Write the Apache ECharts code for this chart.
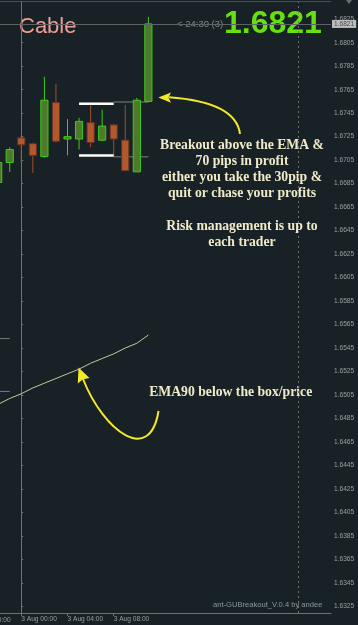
<!DOCTYPE html>
<html>
<head>
<meta charset="utf-8">
<script src="https://cdn.jsdelivr.net/npm/echarts@6/dist/echarts.min.js"></script>
<style>
html,body{margin:0;padding:0;background:#182226;}
#chart{width:358px;height:625px;}
</style>
</head>
<body>
<div id="chart"></div>
<script>
// ---- data (hours relative to 3 Aug 00:00, H1 candles) ----
const hours  = [-2, -1, 0, 1, 2, 3, 4, 5, 6, 7, 8, 9, 10, 11];
const opens  = [1.6686,1.6703,1.6724,1.6719,1.6708,1.6754,1.6723,1.6723,1.6737,1.6722,1.6735,1.6722,1.6695,1.6755];
const closes = [1.6703,1.6714,1.6718,1.6709,1.6756,1.6721,1.6725,1.6738,1.6720,1.6734,1.6723,1.6696,1.6756,1.6821];
const highs  = [1.6705,1.6716,1.6727,1.6720,1.6776,1.6770,1.6740,1.6741,1.6752,1.6748,1.6736,1.6752,1.6758,1.6827];
const lows   = [1.6683,1.6695,1.6703,1.6694,1.6707,1.6720,1.6709,1.6714,1.6716,1.6721,1.6708,1.6696,1.6695,1.6755];
const ema90  = [1.6497,1.6502,1.6506,1.6511,1.6515,1.6519,1.6523,1.6527,1.6532,1.6536,1.6540,1.6545,1.6549,1.6556];

const boxHours = [5, 8];
const boxLevels = [1.6753, 1.6709];
const extHours = [8, 11];
const extLevels = [1.67545, 1.67078];
const prevBoxHours = [-4, -1];
const prevBoxLevels = [1.6553, 1.6508];

const bidPrice = 1.6821;
const separatorHours = [0, 24];

const xTickHours  = [0, 4, 8];
const xTickLabels = ['3 Aug 00:00', '3 Aug 04:00', '3 Aug 08:00'];
const yTickValues = [1.6325,1.6345,1.6365,1.6385,1.6405,1.6425,1.6445,1.6465,1.6485,1.6505,
                     1.6525,1.6545,1.6565,1.6585,1.6605,1.6625,1.6645,1.6665,1.6685,1.6705,
                     1.6725,1.6745,1.6765,1.6785,1.6805,1.6825];

const annotationLines = ['Breakout above the EMA &', '70 pips in profit', 'either you take the 30pip &',
  'quit or chase your profits', '', 'Risk management is up to', 'each trader'];
const emaNote = 'EMA90 below the box/price';

// ---- styles ----
const axisColor = '#6e7273';
const labelColor = '#9a9fa0';
const smallFont = 'Liberation Sans';
const noteColor = '#efeac9';
const arrowColor = '#f3e92a';

const chart = echarts.init(document.getElementById('chart'), null, {renderer: 'canvas'});

function candleItem(params, api) {
  const x = api.value(0), o = api.value(1), c = api.value(2), l = api.value(3), h = api.value(4);
  const pO = api.coord([x, o]), pC = api.coord([x, c]), pL = api.coord([x, l]), pH = api.coord([x, h]);
  const w = api.size([1, 0])[0] * 0.62;
  const up = c >= o;
  const top = Math.min(pO[1], pC[1]);
  const bh = Math.max(Math.abs(pO[1] - pC[1]), 1.5);
  return {
    type: 'group',
    children: [
      {type: 'line', shape: {x1: pH[0], y1: pH[1], x2: pL[0], y2: pL[1]},
       style: {stroke: up ? '#3fcc1e' : '#a0502c', lineWidth: 1}},
      {type: 'rect', shape: {x: pO[0] - w / 2, y: top, width: w, height: bh},
       style: {fill: up ? '#4e7a2c' : '#b1592d', stroke: up ? '#3fcc1e' : '#6a3028', lineWidth: 1}}
    ]
  };
}

function seg(hrs, level) { return hrs.map(h => [h, level]); }

const segStyle = (color, width) => ({
  type: 'line', symbol: 'none', silent: true, animation: false,
  lineStyle: {color: color, width: width}
});

const textEl = (text, x, y, size, color, opts) => ({
  type: 'text', x: x, y: y, silent: true,
  style: Object.assign({text: text, fontSize: size, fontFamily: smallFont, fill: color,
    align: 'left', verticalAlign: 'middle'}, opts || {})
});

const graphics = [
  {type: 'line', shape: {x1: 0, y1: 1.5, x2: 331, y2: 1.5}, style: {stroke: '#4a5051', lineWidth: 1}, silent: true},
  {type: 'polygon', shape: {points: [[346, 0], [352, 0], [349, 4]]}, style: {fill: '#6a6e6f'}, silent: true},
  textEl('Cable', 19, 26.5, 22, '#f19c95', {fontFamily: 'Liberation Sans'}),
  textEl('1.6821', 224, 24.5, 32, '#66e00e', {fontFamily: 'Liberation Sans', fontWeight: 'bold'}),
  textEl('< 24:30 (3)', 177, 24, 9.5, '#7c8586'),
  textEl('2 Aug 20:00', -24.9, 620, 6.6, labelColor),
  textEl('ant-GUBreakout_V.0.4 by andee', 213, 604.5, 7.6, '#8a989c'),
  textEl(emaNote, 230.7, 392, 13.7, noteColor, {fontFamily: 'Liberation Serif', fontWeight: 'bold', align: 'center'}),
  // arrow 1
  {type: 'bezierCurve', shape: {x1: 240, y1: 134, cpx1: 236, cpy1: 102, x2: 169, y2: 97.3},
   style: {stroke: arrowColor, lineWidth: 2, fill: null}, silent: true},
  {type: 'polygon', shape: {points: [[158.3, 97.5], [171, 92.5], [168.5, 97.5], [171, 102.7]]},
   style: {fill: arrowColor}, silent: true},
  // arrow 2
  {type: 'bezierCurve', shape: {x1: 158.5, y1: 411, cpx1: 150, cpy1: 465, cpx2: 104, cpy2: 432, x2: 83, y2: 379},
   style: {stroke: arrowColor, lineWidth: 2, fill: null}, silent: true},
  {type: 'polygon', shape: {points: [[78.5, 367.5], [77.8, 383.5], [82.5, 379.5], [89.5, 378]]},
   style: {fill: arrowColor}, silent: true}
];
annotationLines.forEach((t, i) => {
  if (t) graphics.push(textEl(t, 242, 145.3 + 16.2 * i, 13.7, noteColor,
    {fontFamily: 'Liberation Serif', fontWeight: 'bold', align: 'center'}));
});

const option = {
  backgroundColor: '#182226',
  animation: false,
  grid: {left: 0, right: 27, top: 2, bottom: 12},
  xAxis: {
    type: 'value', min: -1.844, max: 26.81,
    axisLine: {show: true, lineStyle: {color: axisColor, width: 1}},
    axisTick: {show: true, customValues: xTickHours, length: 3, inside: false, lineStyle: {color: axisColor}},
    axisLabel: {customValues: xTickHours, align: 'left', margin: 3, fontSize: 6.6, fontFamily: smallFont,
      color: labelColor, formatter: v => xTickLabels[xTickHours.indexOf(v)] || ''},
    splitLine: {show: false}
  },
  yAxis: {
    type: 'value', position: 'right', min: 1.631927, max: 1.683968, scale: true,
    axisLine: {show: true, lineStyle: {color: axisColor, width: 1}},
    axisTick: {show: true, customValues: yTickValues, length: 2, lineStyle: {color: axisColor}},
    axisLabel: {customValues: yTickValues, margin: 3, fontSize: 6.6, fontFamily: smallFont, color: labelColor,
      formatter: v => v.toFixed(4)},
    splitLine: {show: false}
  },
  graphic: graphics,
  series: [
    Object.assign(segStyle('#7a7a7a', 1), {data: seg(prevBoxHours, prevBoxLevels[0]), z: 1}),
    Object.assign(segStyle('#7a7a7a', 1), {data: seg(prevBoxHours, prevBoxLevels[1]), z: 1}),
    Object.assign(segStyle('#808080', 1), {data: seg(extHours, extLevels[0]), z: 1}),
    Object.assign(segStyle('#808080', 1), {data: seg(extHours, extLevels[1]), z: 1}),
    {
      type: 'line', symbol: 'none', silent: true, z: 1,
      data: hours.map((h, i) => [h, ema90[i]]),
      lineStyle: {color: '#c8c69a', width: 1},
      markLine: {
        silent: true, symbol: 'none', animation: false, precision: 6,
        data: [
          {yAxis: bidPrice, lineStyle: {color: '#5d6465', type: 'solid', width: 1},
           label: {show: true, position: 'end', distance: 1, formatter: bidPrice.toFixed(4), fontSize: 6.6,
             fontFamily: smallFont, color: '#4a4a4a', backgroundColor: '#bdbdbd', padding: [0.5, 2]}},
          ...separatorHours.map(h => ({xAxis: h, lineStyle: {color: '#74716a', type: [2, 3], width: 1},
            label: {show: false}}))
        ]
      }
    },
    {
      type: 'custom', clip: true, z: 3,
      renderItem: candleItem,
      encode: {x: 0, y: [1, 2, 3, 4]},
      data: hours.map((h, i) => [h, opens[i], closes[i], lows[i], highs[i]])
    },
    Object.assign(segStyle('#ffffff', 2.5), {data: seg(boxHours, boxLevels[0]), z: 4}),
    Object.assign(segStyle('#ffffff', 2.5), {data: seg(boxHours, boxLevels[1]), z: 4})
  ]
};
chart.setOption(option);
</script>
</body>
</html>
